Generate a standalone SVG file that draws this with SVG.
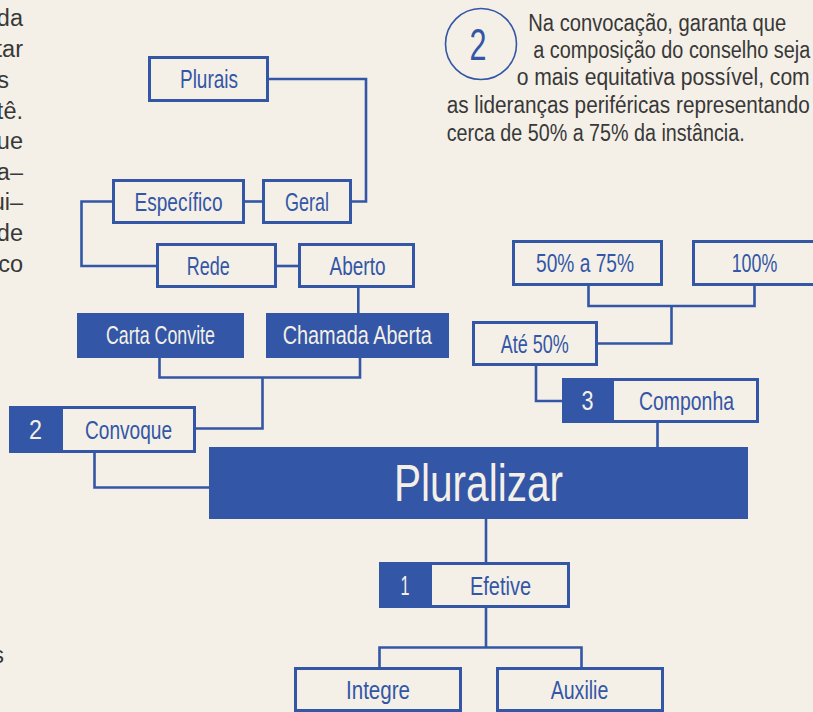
<svg xmlns="http://www.w3.org/2000/svg" width="813" height="712" viewBox="0 0 813 712">
<style>
.bg{fill:#F4F0E7}
.box{fill:none;stroke:#3356A6;stroke-width:3}
.fill{fill:#3356A6}
.con{fill:none;stroke:#3356A6;stroke-width:2.6}
text{font-family:'Liberation Sans Narrow','Liberation Sans',Arial,sans-serif}
.lbl{fill:#3356A6;font-size:25px;text-anchor:middle}
.wl{fill:#F4F0E7;font-size:25px;text-anchor:middle}
.num{fill:#F4F0E7;font-size:28px;text-anchor:middle}
.para{fill:#383838;font-size:23.5px}
</style>
<rect class="bg" x="0" y="0" width="813" height="712"/>

<g id="left-text" class="para" text-anchor="end">
<text x="23" y="26">da</text>
<text x="23" y="57">tar</text>
<text x="9" y="88">s</text>
<text x="23" y="119">tê.</text>
<text x="23" y="149">ue</text>
<text x="23" y="180">a–</text>
<text x="23" y="210">ui–</text>
<text x="23" y="241">de</text>
<text x="23" y="272">ico</text>
<text x="4" y="663">s</text>
</g>

<g id="note">
<circle cx="481" cy="44" r="35.5" fill="none" stroke="#3356A6" stroke-width="1.6"/>
<text x="478" y="60" fill="#3356A6" font-size="44" text-anchor="middle" textLength="17" lengthAdjust="spacingAndGlyphs">2</text>
<g class="para">
<text x="528.3" y="31" textLength="258" lengthAdjust="spacingAndGlyphs">Na convocação, garanta que</text>
<text x="533.3" y="58" textLength="277" lengthAdjust="spacingAndGlyphs">a composição do conselho seja</text>
<text x="516.7" y="85" textLength="293" lengthAdjust="spacingAndGlyphs">o mais equitativa possível, com</text>
<text x="446.7" y="113" textLength="363" lengthAdjust="spacingAndGlyphs">as lideranças periféricas representando</text>
<text x="446.7" y="141" textLength="298" lengthAdjust="spacingAndGlyphs">cerca de 50% a 75% da instância.</text>
</g>
</g>

<g id="connectors">
<path class="con" d="M269 79 H366 V201.5 H352"/>
<path class="con" d="M245 201.5 H262"/>
<path class="con" d="M112 201.5 H81.5 V266 H156"/>
<path class="con" d="M277 266 H298"/>
<path class="con" d="M358.3 288 V313"/>
<path class="con" d="M159.5 358 V377.5 H360 V358"/>
<path class="con" d="M262.5 377.5 V428.5 H196"/>
<path class="con" d="M94.5 453 V487.5 H209"/>
<path class="con" d="M588.5 286 V306 H754.5 V286"/>
<path class="con" d="M671.5 306 V343.5 H598"/>
<path class="con" d="M536 366 V401 H562"/>
<path class="con" d="M657.5 423 V447"/>
<path class="con" d="M486 519 V562"/>
<path class="con" d="M486 608 V647.5"/>
<path class="con" d="M379.5 667 V647.5 H581.5 V667"/>
</g>

<g id="plurais"><rect class="box" x="149.5" y="57.5" width="118" height="43"/><text class="lbl" x="209" y="88" textLength="58" lengthAdjust="spacingAndGlyphs">Plurais</text></g>
<g id="especifico"><rect class="box" x="113.5" y="180.5" width="130" height="42"/><text class="lbl" x="178.5" y="210.5" textLength="88" lengthAdjust="spacingAndGlyphs">Específico</text></g>
<g id="geral"><rect class="box" x="263.5" y="180.5" width="87" height="42"/><text class="lbl" x="307" y="210.5" textLength="44" lengthAdjust="spacingAndGlyphs">Geral</text></g>
<g id="rede"><rect class="box" x="157.5" y="244.5" width="118" height="42"/><text class="lbl" x="208.3" y="274.5" textLength="43" lengthAdjust="spacingAndGlyphs">Rede</text></g>
<g id="aberto"><rect class="box" x="299.5" y="244.5" width="114" height="42"/><text class="lbl" x="357.5" y="274.5" textLength="56" lengthAdjust="spacingAndGlyphs">Aberto</text></g>
<g id="carta-convite"><rect class="fill" x="77" y="313" width="167" height="45"/><text class="wl" x="160.5" y="344" textLength="109" lengthAdjust="spacingAndGlyphs">Carta Convite</text></g>
<g id="chamada-aberta"><rect class="fill" x="266" y="313" width="183" height="45"/><text class="wl" x="357.2" y="344" textLength="149" lengthAdjust="spacingAndGlyphs">Chamada Aberta</text></g>
<g id="convoque"><rect class="box" x="10.5" y="407.5" width="184" height="44"/><rect class="fill" x="9" y="406" width="54" height="47"/><text class="num" x="35.5" y="439" textLength="13" lengthAdjust="spacingAndGlyphs">2</text><text class="lbl" x="128.5" y="438.5" textLength="87" lengthAdjust="spacingAndGlyphs">Convoque</text></g>
<g id="p50-75"><rect class="box" x="513.5" y="241.5" width="148" height="43"/><text class="lbl" x="585" y="272" textLength="98" lengthAdjust="spacingAndGlyphs">50% a 75%</text></g>
<g id="p100"><rect class="box" x="693.5" y="241.5" width="121" height="43"/><text class="lbl" x="754.5" y="272" textLength="45.6" lengthAdjust="spacingAndGlyphs">100%</text></g>
<g id="ate50"><rect class="box" x="473.5" y="322.5" width="123" height="42"/><text class="lbl" x="534.7" y="352.5" textLength="68" lengthAdjust="spacingAndGlyphs">Até 50%</text></g>
<g id="componha"><rect class="box" x="563.5" y="379.5" width="194" height="42"/><rect class="fill" x="562" y="378" width="52" height="45"/><text class="num" x="587.5" y="410" textLength="12" lengthAdjust="spacingAndGlyphs">3</text><text class="lbl" x="686.5" y="409.5" textLength="95" lengthAdjust="spacingAndGlyphs">Componha</text></g>
<g id="pluralizar"><rect class="fill" x="209" y="447" width="539" height="72"/><text x="478.5" y="500.5" fill="#F4F0E7" font-size="51" text-anchor="middle" textLength="169" lengthAdjust="spacingAndGlyphs">Pluralizar</text></g>
<g id="efetive"><rect class="box" x="380.5" y="563.5" width="188" height="43"/><rect class="fill" x="379" y="562" width="53" height="46"/><text class="num" x="405" y="595" textLength="9" lengthAdjust="spacingAndGlyphs">1</text><text class="lbl" x="500.5" y="594.5" textLength="61" lengthAdjust="spacingAndGlyphs">Efetive</text></g>
<g id="integre"><rect class="box" x="295.5" y="668.5" width="165" height="42"/><text class="lbl" x="378" y="698.5" textLength="64" lengthAdjust="spacingAndGlyphs">Integre</text></g>
<g id="auxilie"><rect class="box" x="497.5" y="668.5" width="165" height="42"/><text class="lbl" x="579.5" y="698.5" textLength="57.7" lengthAdjust="spacingAndGlyphs">Auxilie</text></g>
</svg>
